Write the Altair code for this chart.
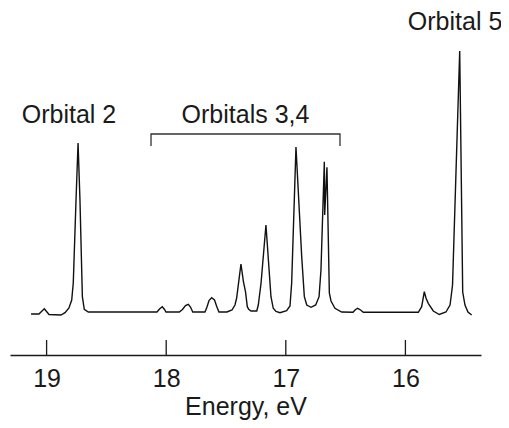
import altair as alt
import pandas as pd

# Spectrum trace (energy in eV, intensity in arbitrary units)
energy = [19.130, 19.064, 19.047, 19.019, 18.997, 18.980, 18.880, 18.846, 18.813, 18.790,
          18.777, 18.754, 18.737, 18.721, 18.701, 18.685, 18.651,
          18.077, 18.056, 18.033, 18.014, 18.002, 17.891, 17.864, 17.839, 17.815, 17.797, 17.778,
          17.676, 17.659, 17.642, 17.620, 17.596, 17.579, 17.559,
          17.492, 17.450, 17.425, 17.411, 17.375, 17.354, 17.337, 17.322, 17.310, 17.291,
          17.243, 17.230, 17.207, 17.166, 17.124, 17.105, 17.082, 17.049, 16.993, 16.965,
          16.951, 16.915, 16.867, 16.845, 16.825, 16.789, 16.750, 16.722, 16.706, 16.678,
          16.675, 16.656, 16.636, 16.622, 16.589, 16.533, 16.438, 16.417, 16.399, 16.375, 16.352,
          15.892, 15.864, 15.842, 15.828, 15.809, 15.767, 15.717, 15.661, 15.627, 15.613,
          15.606, 15.546, 15.521, 15.502, 15.477, 15.446]
intensity = [-2, -2, 0, 3.3, 0, -2.5, -3, -0.7, 4, 12,
             29, 112, 169, 112, 15.3, 2.7, 0,
             0, 3, 5.3, 2.5, 0, 0, 2.5, 6.5, 7.7, 5, 0,
             0, 5, 11.5, 14.3, 12, 6, 0,
             0, 2, 7, 14, 48, 30, 20.3, 5.3, 2.7, 1,
             1, 7, 29, 87, 15.3, 3.7, 0.5, -0.7, 1.3, 6,
             29, 165, 55.3, 15.3, 7, 4.7, 7, 15.3, 42, 150.3,
             97, 144.7, 19, 11, 3.7, 0, -0.3, 2.5, 3.7, 2, -0.3,
             -0.3, 5.3, 20.3, 14, 8.7, 1, -2.5, 0, 7, 20,
             27, 261, 20, 7, 0, -3]

tick_values = [19, 18, 17, 16]

label_text = ["Orbital 2", "Orbitals 3,4", "Orbital 5"]
label_energy = [18.813, 17.337, 15.585]
label_intensity = [189, 189, 282]

bracket_energy = [18.127, 18.127, 16.547, 16.547]
bracket_intensity = [166, 178, 178, 166]

FONT = "Liberation Sans"
W, H = 471, 347

spec = pd.DataFrame({"e": energy, "i": intensity, "idx": list(range(len(energy)))})
ticks = pd.DataFrame({"e": tick_values})
labels = pd.DataFrame({"t": label_text, "e": label_energy, "i": label_intensity})
bracket = pd.DataFrame({"e": bracket_energy, "i": bracket_intensity,
                        "idx": list(range(len(bracket_energy)))})

xscale = alt.Scale(domain=[15.368, 19.306], reverse=True, nice=False, zero=False)
yscale = alt.Scale(domain=[-43, 304], nice=False, zero=False)

xaxis = alt.Axis(values=tick_values, format="d", grid=False, ticks=False, tickSize=0,
                 domainColor="#1a1a1a", domainWidth=1.3,
                 labelFont=FONT, labelFontSize=25, labelColor="#1a1a1a", labelPadding=11,
                 title="Energy, eV", titleFont=FONT, titleFontSize=25,
                 titleFontWeight="normal", titleColor="#1a1a1a", titlePadding=3)

line = alt.Chart(spec).mark_line(color="#111111", strokeWidth=1.4).encode(
    x=alt.X("e:Q", scale=xscale, axis=xaxis),
    y=alt.Y("i:Q", scale=yscale, axis=None),
    order="idx:Q",
)

tick_rules = alt.Chart(ticks).mark_rule(color="#1a1a1a", strokeWidth=1.3).encode(
    x=alt.X("e:Q", scale=xscale),
    y=alt.value(H - 15),
    y2=alt.value(H),
)

bracket_line = alt.Chart(bracket).mark_line(color="#333333", strokeWidth=1.3).encode(
    x=alt.X("e:Q", scale=xscale),
    y=alt.Y("i:Q", scale=yscale),
    order="idx:Q",
)

texts = alt.Chart(labels).mark_text(font=FONT, fontSize=25, color="#1a1a1a",
                                    align="center", baseline="alphabetic").encode(
    x=alt.X("e:Q", scale=xscale),
    y=alt.Y("i:Q", scale=yscale),
    text="t:N",
)

chart = alt.layer(line, tick_rules, bracket_line, texts).properties(
    width=W, height=H,
    autosize=alt.AutoSizeParams(type="none"),
    padding={"left": 2, "top": 0, "right": 20, "bottom": 65},
    background="white",
).configure_view(stroke=None)

chart.save("out.html", embed_options={"renderer": "svg", "actions": False})
